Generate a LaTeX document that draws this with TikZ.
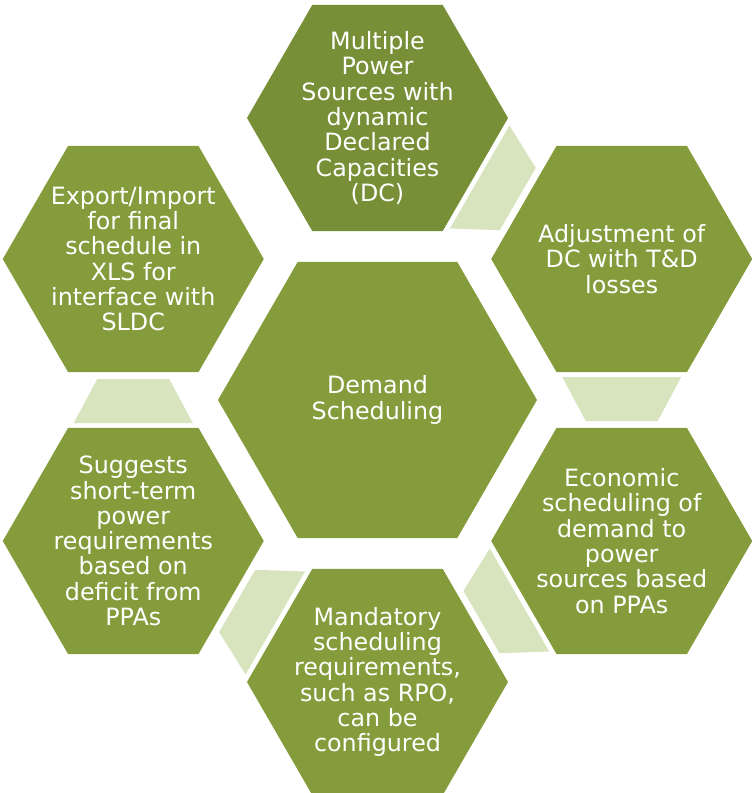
\documentclass[tikz,border=0pt]{standalone}
\usepackage{fontspec}
\setmainfont{DejaVu Sans}
\usepackage{tikz}
\usetikzlibrary{shapes, calc, positioning}

\definecolor{hexgreen}{HTML}{849C3B}
\definecolor{hexdark}{HTML}{778F36}
\definecolor{linkgreen}{HTML}{D7E4BD}

\tikzset{
	hex/.style={regular polygon, regular polygon sides=6, minimum size=261pt, inner sep=0pt, outer sep=0pt, fill=hexgreen},
	hextext/.style={text=white, align=center, font=\fontsize{23.8}{25.3}\selectfont},
	link/.style={fill=linkgreen}
}

\begin{document}
\begin{tikzpicture}[x=1pt, y=1pt]
	\useasboundingbox (-377.5,-393) rectangle (375.5,400);
	\node[hex, minimum size=319pt] (hub) at (0,0) {};
	\foreach \n/\a/\c in {top/90/hexdark, ur/30/hexgreen, lr/-30/hexgreen, bot/-90/hexgreen, ll/-150/hexgreen, ul/150/hexgreen}
		\node[hex, fill=\c] (\n) at (\a:282) {};
	\foreach \s/\t in {top/ur, ur/lr, lr/bot, bot/ll, ll/ul}
		\fill[link] ($(\s.center)!118pt!(\t.center)!59.5pt!90:(\t.center)$)
			-- ($(\s.center)!118pt!(\t.center)!59.5pt!-90:(\t.center)$)
			-- ($(\s.center)!162pt!(\t.center)!36pt!-90:(\t.center)$)
			-- ($(\s.center)!162pt!(\t.center)!36pt!90:(\t.center)$) -- cycle;
	\node[hextext] (hub-text) at (hub) {Demand\\Scheduling};
	\node[hextext] (top-text) at (top) {Multiple\\Power\\Sources with\\dynamic\\Declared\\Capacities\\(DC)};
	\node[hextext] (ur-text) at (ur) {Adjustment of\\DC with T\&D\\losses};
	\node[hextext] (lr-text) at (lr) {Economic\\scheduling of\\demand to\\power\\sources based\\on PPAs};
	\node[hextext] (bot-text) at (bot) {Mandatory\\scheduling\\requirements,\\such as RPO,\\can be\\configured};
	\node[hextext] (ll-text) at (ll) {Suggests\\short-term\\power\\requirements\\based on\\deficit from\\PPAs};
	\node[hextext] (ul-text) at (ul) {Export/Import\\for final\\schedule in\\XLS for\\interface with\\SLDC};
\end{tikzpicture}
\end{document}
